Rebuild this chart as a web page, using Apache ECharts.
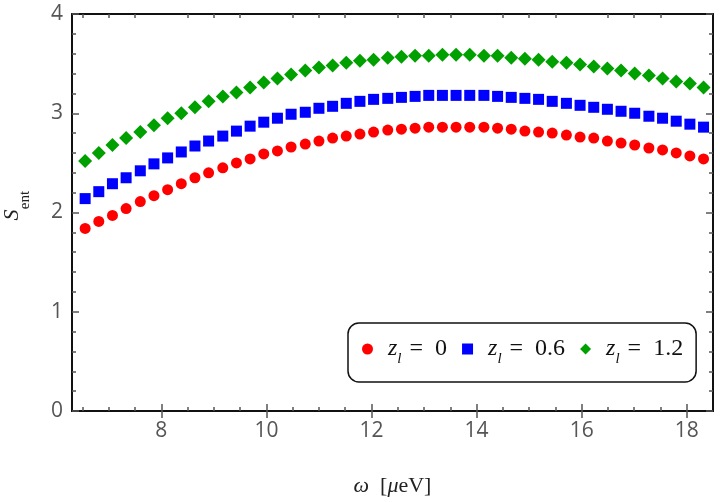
<!DOCTYPE html>
<html><head><meta charset="utf-8">
<script src="https://cdn.jsdelivr.net/npm/echarts@6/dist/echarts.min.js"></script>
<style>html,body{margin:0;padding:0;background:#fff}#c{width:720px;height:502px}</style>
</head><body><div id="c"></div>
<script>
// omega [µeV]
const omega = [6.55,6.81,7.07,7.33,7.60,7.86,8.12,8.38,8.64,8.90,9.17,9.43,9.69,9.95,10.21,10.47,10.74,11.00,11.26,11.52,11.78,
  12.04,12.31,12.57,12.83,13.09,13.35,13.61,13.87,14.14,14.40,14.66,14.92,15.18,15.44,15.71,15.97,16.23,16.49,16.75,17.01,17.28,17.54,17.80,18.06,18.32];
// S_ent, z_l = 0
const sZl0 = [1.84,1.91,1.97,2.04,2.11,2.17,2.23,2.29,2.35,2.40,2.45,2.50,2.54,2.59,2.62,2.66,2.69,2.72,2.75,2.77,2.79,
  2.81,2.83,2.84,2.85,2.86,2.86,2.86,2.86,2.86,2.85,2.84,2.82,2.81,2.80,2.78,2.76,2.75,2.72,2.70,2.68,2.65,2.63,2.60,2.57,2.54];
// S_ent, z_l = 0.6
const sZl06 = [2.14,2.21,2.29,2.35,2.42,2.49,2.55,2.61,2.67,2.72,2.77,2.82,2.87,2.91,2.95,2.99,3.01,3.05,3.07,3.10,3.12,
  3.14,3.15,3.16,3.17,3.18,3.18,3.18,3.18,3.18,3.17,3.16,3.15,3.14,3.12,3.10,3.08,3.06,3.04,3.02,3.00,2.97,2.95,2.92,2.89,2.86];
// S_ent, z_l = 1.2
const sZl12 = [2.52,2.60,2.68,2.75,2.81,2.88,2.95,3.00,3.06,3.12,3.17,3.21,3.26,3.31,3.35,3.39,3.43,3.46,3.48,3.51,3.53,
  3.54,3.56,3.57,3.58,3.58,3.59,3.59,3.59,3.58,3.58,3.56,3.55,3.54,3.52,3.51,3.49,3.47,3.45,3.43,3.40,3.38,3.35,3.32,3.30,3.26];

const xMajorTicks = [8,10,12,14,16,18];
const xMinorTicks = [6.5,7,7.5,8.5,9,9.5,10.5,11,11.5,12.5,13,13.5,14.5,15,15.5,16.5,17,17.5];
const seriesNames = ['zl0','zl06','zl12'];
const seriesValues = ['0','0.6','1.2'];

const chart = echarts.init(document.getElementById('c'));
const frameLine = {show:true, lineStyle:{color:'#111', width:2}};
const tickStyle = {color:'#555', width:1.5};
const xRange = {min:6.3, max:18.5};
const serif = 'Liberation Serif';

function xAxisDef(pos, ticks, len, labels, name) {
  const a = Object.assign({type:'value', position:pos, gridIndex:0}, xRange, {
    axisLine: frameLine,
    splitLine:{show:false},
    axisTick:{show:true, inside:true, length:len, lineStyle:tickStyle, customValues:ticks},
    axisLabel: labels ? {show:true, customValues:ticks, color:'#555', fontSize:21, fontFamily:'Open Sans', margin:10} : {show:false}
  });
  if (name) {
    a.name = '{i|ω}{r|  [}{i|μ}{r|eV]}';
    a.nameLocation = 'middle';
    a.nameGap = 64;
    a.nameTextStyle = {rich:{
      i:{fontFamily:serif, fontStyle:'italic', fontSize:22, color:'#222'},
      r:{fontFamily:serif, fontSize:22, color:'#222'}
    }};
  }
  return a;
}
function yAxisDef(pos, labels) {
  return {type:'value', position:pos, min:0, max:4, interval:1, gridIndex:0,
    axisLine: frameLine,
    splitLine:{show:false},
    axisTick:{show:true, inside:true, length:7, lineStyle:tickStyle},
    minorTick:{show:true, splitNumber:5, length:4, lineStyle:tickStyle},
    minorSplitLine:{show:false},
    axisLabel: labels ? {show:true, color:'#555', fontSize:21, fontFamily:'Open Sans', margin:9} : {show:false}
  };
}

const legendRich = {
  z:{fontFamily:serif, fontStyle:'italic', fontSize:24, color:'#111', padding:[0,0,0,10]},
  l:{fontFamily:serif, fontStyle:'italic', fontSize:15, color:'#111', verticalAlign:'bottom', padding:[0,0,-6,0]},
  e:{fontFamily:serif, fontSize:24, color:'#111', padding:[0,12,0,8]},
  n:{fontFamily:serif, fontSize:24, color:'#111'}
};

function mk(name, vals, symbol, size, color) {
  return {type:'scatter', name:name, xAxisIndex:0, yAxisIndex:0,
    data: omega.map((x,i)=>[x, vals[i]]), symbol:symbol, symbolSize:size,
    itemStyle:{color:color, opacity:1}, emphasis:{disabled:true}, animation:false};
}

chart.setOption({
  animation:false,
  backgroundColor:'#fff',
  grid:{left:72, right:7, top:14, bottom:89, containLabel:false},
  xAxis:[
    xAxisDef('bottom', xMajorTicks, 7, true, true),
    xAxisDef('top', xMajorTicks, 7, false, false),
    xAxisDef('bottom', xMinorTicks, 4, false, false),
    xAxisDef('top', xMinorTicks, 4, false, false)
  ],
  yAxis:[yAxisDef('left', true), yAxisDef('right', false)],
  graphic:[{
    type:'group', x:20, y:208, rotation:Math.PI/2,
    children:[
      {type:'text', x:-7, y:-8, style:{text:'S', font:'italic 22px "Liberation Serif"', fill:'#222', align:'center', verticalAlign:'middle'}},
      {type:'text', x:8, y:5, style:{text:'ent', font:'15px "Liberation Serif"', fill:'#222', align:'center', verticalAlign:'middle'}}
    ]
  }],
  legend:{
    show:true, left:348, top:323, orient:'horizontal',
    backgroundColor:'#fff', borderColor:'#111', borderWidth:1.5, borderRadius:11,
    padding:[14,13,15,14], itemGap:15, itemWidth:11, itemHeight:11,
    data:[
      {name:'zl0', icon:'circle'},
      {name:'zl06', icon:'rect'},
      {name:'zl12', icon:'diamond'}
    ],
    formatter: function(name){ const v = seriesValues[seriesNames.indexOf(name)]; return '{z|z}{l|l}{e|=}{n|' + v + '}'; },
    textStyle:{rich:legendRich},
    selectedMode:false
  },
  series:[
    mk('zl0', sZl0, 'circle', 11, '#ff0000'),
    mk('zl06', sZl06, 'rect', 11, '#0000ff'),
    mk('zl12', sZl12, 'diamond', 14, '#00a000')
  ]
});
</script></body></html>
